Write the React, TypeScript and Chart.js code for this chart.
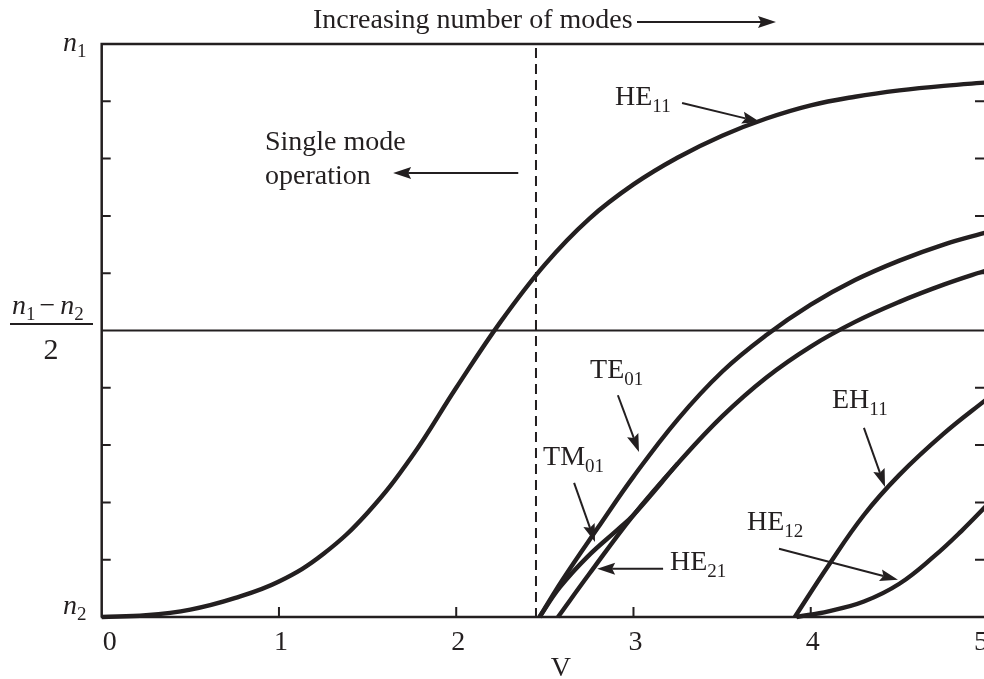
import { useEffect, useRef } from "react";
import { Chart, registerables } from "chart.js";

Chart.register(...registerables);

// ---- data (V vs normalised index, 0 = n2, 10 = n1) ----
const V_HE11 = [0, 0.25, 0.5, 0.75, 1.0, 1.25, 1.5, 1.75, 2.0, 2.25, 2.5, 2.75, 3.0, 3.25, 3.5, 3.75, 4.0, 4.25, 4.5, 4.75, 5.0];
const N_HE11 = [0, 0.03, 0.13, 0.33, 0.62, 1.1, 1.82, 2.8, 4.0, 5.15, 6.15, 6.95, 7.55, 8.02, 8.4, 8.7, 8.93, 9.08, 9.19, 9.27, 9.33];

const V_TE01 = [2.47, 2.6, 2.8, 3.0, 3.25, 3.5, 3.75, 4.0, 4.25, 4.5, 4.75, 5.0];
const N_TE01 = [0, 0.65, 1.56, 2.45, 3.45, 4.28, 4.92, 5.45, 5.88, 6.22, 6.5, 6.72];

const V_TM01 = [2.47, 2.585, 2.74, 2.92, 3.0, 3.25];
const N_TM01 = [0, 0.52, 1.05, 1.55, 1.78, 2.68];

const V_HE21 = [2.574, 2.75, 3.0, 3.25, 3.5, 3.75, 4.0, 4.25, 4.5, 4.75, 5.0];
const N_HE21 = [0, 0.75, 1.78, 2.68, 3.5, 4.18, 4.72, 5.15, 5.5, 5.8, 6.06];

const V_EH11 = [3.91, 4.1, 4.3, 4.5, 4.75, 5.0];
const N_EH11 = [0, 0.9, 1.78, 2.48, 3.2, 3.82];

const V_HE12 = [3.92, 4.1, 4.3, 4.5, 4.7, 4.85, 5.0];
const N_HE12 = [0, 0.1, 0.27, 0.58, 1.07, 1.5, 1.97];

const X_TICKS = [0, 1, 2, 3, 4, 5];
const X_TICK_LABELS = ["0", "1", "2", "3", "4", "5"];
const X_MINOR_TICKS = [1, 2, 3, 4];
const Y_TICKS = [1, 2, 3, 4, 6, 7, 8, 9];
const X_TITLE = "V";
const CHART_TITLE = "Increasing number of modes";
const CUTOFF_V = 2.45;
const MID_N = 5;

// mode annotations: label, subscript, label anchor (V, N), arrow tail, arrow tip
const MODE_NAMES = ["HE", "TE", "TM", "HE", "EH", "HE"];
const MODE_SUBS = ["11", "01", "01", "21", "11", "12"];
const LABEL_V = [2.896, 2.755, 2.49, 3.206, 4.12, 3.64];
const LABEL_N = [8.94, 4.17, 2.65, 0.82, 3.65, 1.52];
const TAIL_V = [3.274, 2.912, 2.665, 3.167, 4.3, 3.821];
const TAIL_N = [8.97, 3.87, 2.34, 0.84, 3.3, 1.19];
const TIP_V = [3.714, 3.031, 2.783, 2.795, 4.419, 4.492];
const TIP_N = [8.64, 2.88, 1.31, 0.84, 2.27, 0.65];

const SINGLE_LINES = ["Single mode", "operation"];

const INK = "#231f20";
const SERIF = '"Liberation Serif", "Times New Roman", serif';

function pts(xs: number[], ys: number[]) {
  return xs.map((x, i) => ({ x, y: ys[i] }));
}

function drawArrow(ctx: CanvasRenderingContext2D, x1: number, y1: number, x2: number, y2: number, head = 18, half = 6, w = 2) {
  const a = Math.atan2(y2 - y1, x2 - x1);
  const bx = x2 - head * Math.cos(a);
  const by = y2 - head * Math.sin(a);
  ctx.save();
  ctx.strokeStyle = INK;
  ctx.fillStyle = INK;
  ctx.lineWidth = w;
  ctx.beginPath();
  ctx.moveTo(x1, y1);
  ctx.lineTo(bx + Math.cos(a) * 3, by + Math.sin(a) * 3);
  ctx.stroke();
  ctx.beginPath();
  ctx.moveTo(x2, y2);
  ctx.lineTo(bx + half * Math.sin(a), by - half * Math.cos(a));
  ctx.lineTo(bx + 3 * Math.cos(a), by + 3 * Math.sin(a));
  ctx.lineTo(bx - half * Math.sin(a), by + half * Math.cos(a));
  ctx.closePath();
  ctx.fill();
  ctx.restore();
}

function subText(ctx: CanvasRenderingContext2D, main: string, sub: string, x: number, y: number, italic = false, size = 28, subSize = 19, drop = 7) {
  ctx.font = `${italic ? "italic " : ""}${size}px ${SERIF}`;
  ctx.textAlign = "left";
  ctx.textBaseline = "alphabetic";
  ctx.fillText(main, x, y);
  const w = ctx.measureText(main).width;
  ctx.font = `${subSize}px ${SERIF}`;
  ctx.fillText(sub, x + w, y + drop);
  return w + ctx.measureText(sub).width;
}

const decorPlugin = {
  id: "decor",
  beforeDatasetsDraw(chart: any) {
    const ctx: CanvasRenderingContext2D = chart.ctx;
    const xs = chart.scales.x;
    const ys = chart.scales.y;
    const L = xs.getPixelForValue(0);
    const R = xs.getPixelForValue(5);
    const T = ys.getPixelForValue(10);
    const B = ys.getPixelForValue(0);
    ctx.save();
    ctx.strokeStyle = INK;
    ctx.lineCap = "butt";
    // frame
    ctx.lineWidth = 2.5;
    ctx.beginPath();
    ctx.moveTo(L, B);
    ctx.lineTo(L, T);
    ctx.lineTo(R + 20, T);
    ctx.moveTo(L - 1, B);
    ctx.lineTo(R + 20, B);
    ctx.moveTo(R, T);
    ctx.lineTo(R, B);
    ctx.stroke();
    // ticks (inward)
    ctx.lineWidth = 2;
    ctx.beginPath();
    Y_TICKS.forEach((t) => {
      const y = ys.getPixelForValue(t);
      ctx.moveTo(L, y);
      ctx.lineTo(L + 9, y);
      ctx.moveTo(R, y);
      ctx.lineTo(R - 13, y);
    });
    X_MINOR_TICKS.forEach((t) => {
      const x = xs.getPixelForValue(t);
      ctx.moveTo(x, B);
      ctx.lineTo(x, B - 10);
    });
    ctx.stroke();
    // mid line
    const M = ys.getPixelForValue(MID_N);
    ctx.lineWidth = 1.8;
    ctx.beginPath();
    ctx.moveTo(L, M);
    ctx.lineTo(R + 20, M);
    ctx.stroke();
    // cutoff dashed line
    const C = xs.getPixelForValue(CUTOFF_V);
    ctx.lineWidth = 2;
    ctx.setLineDash([10, 6]);
    ctx.beginPath();
    ctx.moveTo(C, T + 4);
    ctx.lineTo(C, B);
    ctx.stroke();
    ctx.setLineDash([]);
    ctx.restore();
  },
  afterDatasetsDraw(chart: any) {
    const ctx: CanvasRenderingContext2D = chart.ctx;
    const xs = chart.scales.x;
    const ys = chart.scales.y;
    const px = (v: number) => xs.getPixelForValue(v);
    const py = (n: number) => ys.getPixelForValue(n);
    const T = py(10);
    const B = py(0);
    const M = py(MID_N);
    ctx.save();
    ctx.fillStyle = INK;
    ctx.strokeStyle = INK;

    // x tick labels
    ctx.font = `28px ${SERIF}`;
    ctx.textBaseline = "alphabetic";
    X_TICKS.forEach((t, i) => {
      const x = px(t);
      if (i === 0) {
        ctx.textAlign = "left";
        ctx.fillText(X_TICK_LABELS[i], x + 1, B + 33);
      } else if (i === X_TICKS.length - 1) {
        ctx.textAlign = "right";
        ctx.fillText(X_TICK_LABELS[i], x, B + 33);
      } else {
        ctx.textAlign = "center";
        ctx.fillText(X_TICK_LABELS[i], x + 2, B + 33);
      }
    });
    ctx.textAlign = "center";
    ctx.fillText(X_TITLE, px(2.59), B + 59);

    // y labels
    subText(ctx, "n", "1", 63, T + 7, true, 28, 19, 6);
    subText(ctx, "n", "2", 63, B - 3, true, 28, 19, 6);
    // fraction (n1 - n2)/2
    let x = 12;
    const nb = M - 17;
    x += subText(ctx, "n", "1", x, nb, true, 28, 19, 6);
    ctx.font = `28px ${SERIF}`;
    ctx.textAlign = "left";
    ctx.fillText("\u2212", x + 4, nb);
    x += ctx.measureText("\u2212").width + 9;
    subText(ctx, "n", "2", x, nb, true, 28, 19, 6);
    ctx.lineWidth = 1.8;
    ctx.beginPath();
    ctx.moveTo(10, M - 6.5);
    ctx.lineTo(93, M - 6.5);
    ctx.stroke();
    ctx.font = `30px ${SERIF}`;
    ctx.textAlign = "center";
    ctx.fillText("2", 51, M + 28);

    // title with arrow
    ctx.font = `28px ${SERIF}`;
    ctx.textAlign = "left";
    ctx.fillText(CHART_TITLE, 313, 28);
    drawArrow(ctx, 637, 22, 776, 22, 18, 6, 2.2);

    // single-mode annotation
    ctx.font = `28px ${SERIF}`;
    ctx.textAlign = "left";
    ctx.fillText(SINGLE_LINES[0], px(0.921), py(8.15));
    ctx.fillText(SINGLE_LINES[1], px(0.921), py(7.56));
    drawArrow(ctx, px(2.35), py(7.75), px(1.644), py(7.75), 18, 6, 2);

    // mode labels & arrows
    MODE_NAMES.forEach((name, i) => {
      ctx.fillStyle = INK;
      subText(ctx, name, MODE_SUBS[i], px(LABEL_V[i]), py(LABEL_N[i]));
      drawArrow(ctx, px(TAIL_V[i]), py(TAIL_N[i]), px(TIP_V[i]), py(TIP_N[i]));
    });
    ctx.restore();
  },
};

export default function App() {
  const ref = useRef<HTMLCanvasElement | null>(null);
  useEffect(() => {
    if (!ref.current) return;
    const line = (label: string, xs: number[], ys: number[]) => ({
      label,
      data: pts(xs, ys),
      borderColor: INK,
      backgroundColor: INK,
      borderWidth: 4.4,
      pointRadius: 0,
      tension: 0.4,
      fill: false,
      clip: 20,
    });
    const chart = new Chart(ref.current, {
      type: "line",
      data: {
        datasets: [
          line("HE11", V_HE11, N_HE11),
          line("TE01", V_TE01, N_TE01),
          line("TM01", V_TM01, N_TM01),
          line("HE21", V_HE21, N_HE21),
          line("EH11", V_EH11, N_EH11),
          line("HE12", V_HE12, N_HE12),
        ],
      },
      options: {
        responsive: false,
        animation: false,
        devicePixelRatio: 1,
        layout: { padding: { left: 101.7, top: 44, right: 12, bottom: 62 } },
        plugins: { legend: { display: false }, tooltip: { enabled: false }, title: { display: false } },
        scales: {
          x: { type: "linear", min: 0, max: 5, display: false },
          y: { type: "linear", min: 0, max: 10, display: false },
        },
        events: [],
      },
      plugins: [decorPlugin],
    });
    return () => chart.destroy();
  }, []);
  return (
    <div style={{ position: "fixed", left: 0, top: 0, width: 984, height: 679, overflow: "hidden", background: "#fff" }}>
      <canvas ref={ref} width={1000} height={679} style={{ width: 1000, height: 679, display: "block" }} />
    </div>
  );
}
